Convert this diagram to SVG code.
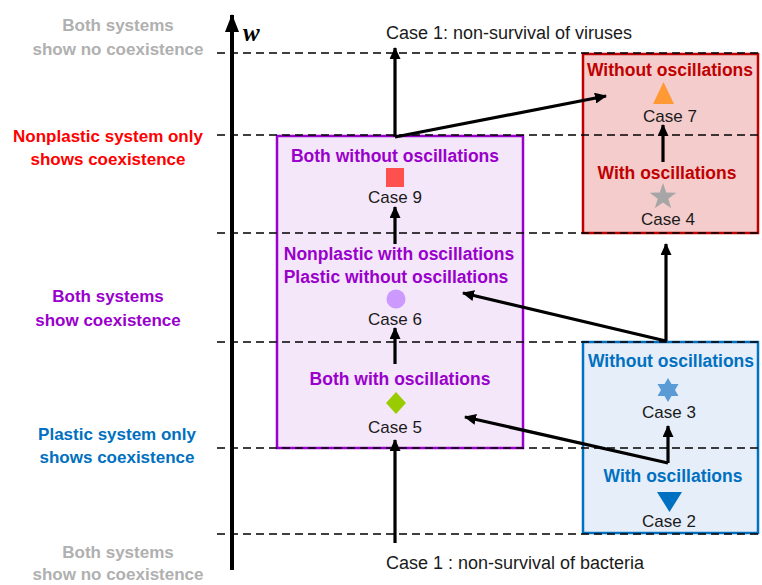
<svg xmlns="http://www.w3.org/2000/svg" width="762" height="585" viewBox="0 0 762 585">
<style>
  .b { font-family: "Liberation Sans", Arial, sans-serif; font-weight: bold; text-anchor: middle; }
  .h { font-size: 17.5px; }
  .l { font-size: 17px; }
  .c { font-family: "Liberation Sans", Arial, sans-serif; font-size: 17px; fill: #1a1a1a; text-anchor: middle; }
  .c1 { font-family: "Liberation Sans", Arial, sans-serif; font-size: 18px; fill: #1a1a1a; }
  .gray { fill: #b0b0b0; }
  .red { fill: #ff0000; }
  .dred { fill: #c00000; }
  .pur { fill: #9900cc; }
  .blu { fill: #0070c0; }
  .dash { stroke: #000; stroke-width: 1.6; stroke-dasharray: 8 5; fill: none; }
  .arr { stroke: #000; stroke-width: 3.2; fill: none; marker-end: url(#ah); }
</style>
<defs>
  <marker id="ah" viewBox="0 0 12 11" refX="11" refY="5.5" markerWidth="12" markerHeight="11" markerUnits="userSpaceOnUse" orient="auto">
    <path d="M0,0 L12,5.5 L0,11 z" fill="#000"/>
  </marker>
  <marker id="axh" viewBox="0 0 18 14" refX="17" refY="7" markerWidth="18" markerHeight="14" markerUnits="userSpaceOnUse" orient="auto">
    <path d="M0,0 L18,7 L0,14 z" fill="#000"/>
  </marker>
</defs>
<rect width="762" height="585" fill="#fff"/>

<!-- boxes -->
<g id="box-red"><rect x="583" y="54" width="175" height="179" fill="#f4cccc" stroke="#c00000" stroke-width="2.5"/></g>
<g id="box-purple"><rect x="277" y="136" width="246" height="312" fill="#f5e7fa" stroke="#9900cc" stroke-width="2.5"/></g>
<g id="box-blue"><rect x="583" y="342" width="175" height="191" fill="#e6eef9" stroke="#0070c0" stroke-width="2.5"/></g>

<!-- dashed level lines -->
<g id="levels">
  <line class="dash" x1="217" y1="53" x2="762" y2="53"/>
  <line class="dash" x1="217" y1="135" x2="762" y2="135"/>
  <line class="dash" x1="217" y1="233" x2="762" y2="233"/>
  <line class="dash" x1="217" y1="342" x2="762" y2="342"/>
  <line class="dash" x1="217" y1="448" x2="762" y2="448"/>
  <line class="dash" x1="217" y1="534" x2="762" y2="534"/>
</g>

<!-- axis -->
<g id="axis">
  <line x1="232" y1="570" x2="232" y2="15" stroke="#000" stroke-width="4" marker-end="url(#axh)"/>
  <text x="243" y="41" font-family="Liberation Serif, serif" font-size="25" font-weight="bold" font-style="italic" fill="#000">w</text>
</g>

<!-- left labels -->
<g id="label-top">
  <text class="b l gray" x="118" y="31">Both systems</text>
  <text class="b l gray" x="118" y="55">show no coexistence</text>
</g>
<g id="label-nonplastic">
  <text class="b l red" x="108" y="142">Nonplastic system only</text>
  <text class="b l red" x="108" y="165">shows coexistence</text>
</g>
<g id="label-both">
  <text class="b l pur" x="108" y="302">Both systems</text>
  <text class="b l pur" x="108" y="326">show coexistence</text>
</g>
<g id="label-plastic">
  <text class="b l blu" x="117" y="440">Plastic system only</text>
  <text class="b l blu" x="117" y="463">shows coexistence</text>
</g>
<g id="label-bottom">
  <text class="b l gray" x="118" y="558">Both systems</text>
  <text class="b l gray" x="118" y="580">show no coexistence</text>
</g>

<!-- nodes -->
<g id="case1-viruses"><text class="c1" x="386" y="39">Case 1: non-survival of viruses</text></g>
<g id="case7">
  <text class="b h dred" x="670" y="76">Without oscillations</text>
  <polygon points="663.5,82 653,104 674,104" fill="#ff9933"/>
  <text class="c" x="670" y="122">Case 7</text>
</g>
<g id="case4">
  <text class="b h dred" x="667" y="179">With oscillations</text>
  <polygon points="663,183 666.3,192.5 676.3,192.7 668.3,198.7 671.2,208.3 663,202.6 654.8,208.3 657.7,198.7 649.7,192.7 659.7,192.5" fill="#a6a6a6"/>
  <text class="c" x="668" y="225">Case 4</text>
</g>
<g id="case9">
  <text class="b h pur" x="395" y="162">Both without oscillations</text>
  <rect x="386" y="168" width="18" height="19" fill="#ff5050"/>
  <text class="c" x="395" y="203">Case 9</text>
</g>
<g id="case6">
  <text class="b h pur" x="399" y="260">Nonplastic with oscillations</text>
  <text class="b h pur" x="396" y="283">Plastic without oscillations</text>
  <circle cx="396" cy="299" r="9.5" fill="#cc99ff"/>
  <text class="c" x="395" y="325">Case 6</text>
</g>
<g id="case5">
  <text class="b h pur" x="400" y="385">Both with oscillations</text>
  <polygon points="396,392 406,403 396,414 386,403" fill="#99cc00"/>
  <text class="c" x="395" y="433">Case 5</text>
</g>
<g id="case3">
  <text class="b h blu" x="671" y="367">Without oscillations</text>
  <polygon points="668,378 671.5,384 678.5,384 675,390 678.5,396 671.5,396 668,402 664.5,396 657.5,396 661,390 657.5,384 664.5,384" fill="#5b9bd5"/>
  <text class="c" x="669" y="418">Case 3</text>
</g>
<g id="case2">
  <text class="b h blu" x="673" y="482">With oscillations</text>
  <polygon points="657,492 682,492 669.5,512" fill="#0070c0"/>
  <text class="c" x="669" y="527">Case 2</text>
</g>
<g id="case1-bacteria"><text class="c1" x="386" y="569">Case 1 : non-survival of bacteria</text></g>

<!-- connectors -->
<g id="connectors">
  <line class="arr" x1="395" y1="543" x2="395" y2="440"/>
  <line class="arr" x1="395" y1="364" x2="395" y2="328"/>
  <line class="arr" x1="395" y1="244" x2="395" y2="207"/>
  <line class="arr" x1="395" y1="137" x2="395" y2="48"/>
  <line class="arr" x1="395" y1="137" x2="606" y2="96"/>
  <line class="arr" x1="663" y1="162" x2="663" y2="125"/>
  <line class="arr" x1="666" y1="341" x2="666" y2="244"/>
  <line class="arr" x1="666" y1="341" x2="463" y2="293"/>
  <line class="arr" x1="668" y1="463" x2="668" y2="426"/>
  <line class="arr" x1="668" y1="463" x2="465" y2="417"/>
</g>
</svg>
